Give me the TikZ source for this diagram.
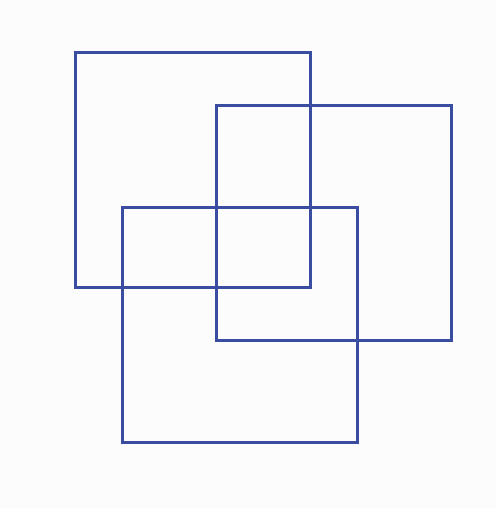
\documentclass[tikz,border=0pt]{standalone}
\usepackage{xcolor}
\usepackage{tikz}
\usetikzlibrary{positioning}
\definecolor{frameblue}{HTML}{3B4DA0}
\definecolor{paper}{HTML}{FCFCFD}

\begin{document}
\begin{tikzpicture}[x=1pt, y=-1pt,
    square/.style={draw=frameblue, line width=3pt, minimum width=235pt, minimum height=235pt, inner sep=0pt, outer sep=0pt, anchor=north west}]
    \fill[paper] (0,0) rectangle (496,508);
    \useasboundingbox (0,0) rectangle (496,508);
    \node[square] (topleft) at (75.5,52.5) {};
    \node[square] (right) at (216,105.5) {};
    \node[square] (bottom) at (122,207) {};
  \end{tikzpicture}
\end{document}
